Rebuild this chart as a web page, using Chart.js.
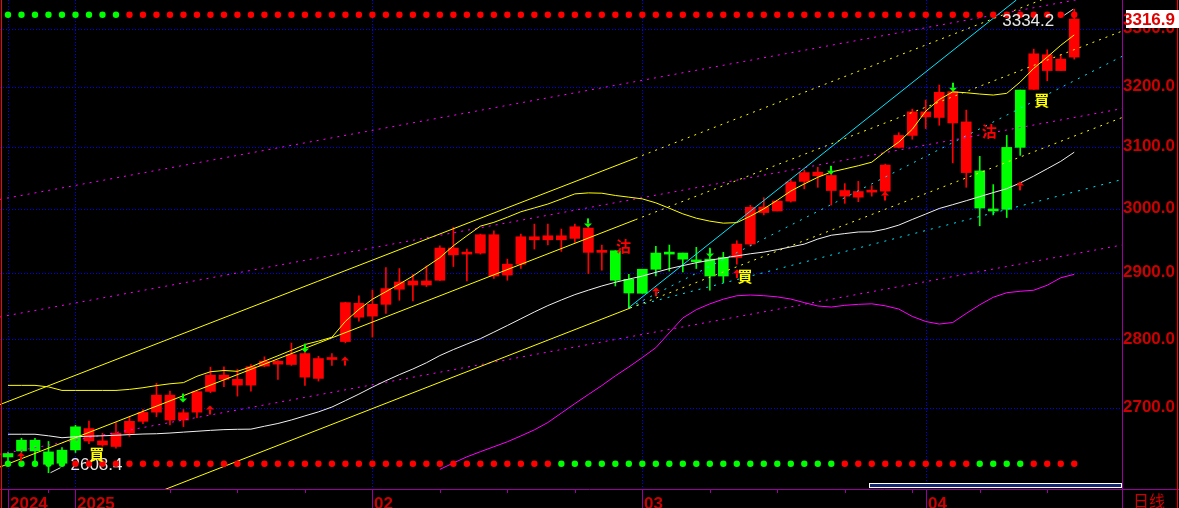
<!DOCTYPE html>
<html>
<head>
<meta charset="utf-8">
<script src="https://cdn.jsdelivr.net/npm/chart.js@4.4.1/dist/chart.umd.min.js"></script>
<style>
html, body { margin: 0; padding: 0; background: #000; }
#wrap { width: 1179px; height: 508px; }
</style>
</head>
<body>
<div id="wrap"><canvas id="graph" width="1179" height="508"></canvas></div>
<script>
// 日足ローソク 2024/12 - 2025/04 (index 0 - 79)
const openP = [2635.1,2653.7,2653.7,2637.3,2639.7,2672.6,2652.7,2647.1,2644.9,2663.5,
  2680.4,2693.4,2682.2,2682.2,2693.4,2723.2,2740.6,2732.3,2732.3,2759.9,
  2762.8,2762.3,2743.9,2742.0,2769.6,2796.1,2832.4,2833.9,2851.7,2874.6,
  2881.1,2881.1,2888.3,2927.5,2928.6,2930.2,2894.8,2896.3,2913.0,2950.9,
  2950.9,2950.9,2953.1,2931.3,2931.3,2933.8,2889.8,2905.2,2930.2,2931.3,
  2930.2,2918.1,2920.8,2923.4,2923.4,2944.2,2993.8,2996.3,3012.0,3043.6,
  3052.6,3028.9,3019.9,3018.3,3026.3,3027.9,3098.9,3118.6,3149.4,3148.4,
  3139.3,3057.8,3060.5,2998.9,3098.9,3194.4,3195.6,3227.6,3227.6,3250.7];
const highP = [2636.9,2656.5,2656.5,2651.9,2643.5,2674.8,2680.8,2663.5,2678.5,2687.0,
  2697.2,2734.8,2723.6,2697.2,2723.0,2758.4,2759.0,2755.1,2762.3,2773.5,
  2768.1,2793.8,2781.0,2774.3,2778.3,2854.8,2864.4,2873.5,2907.8,2906.3,
  2897.4,2910.3,2941.6,2970.3,2936.5,2959.8,2965.0,2920.8,2959.8,2975.5,
  2975.5,2967.7,2975.5,2975.5,2942.7,2933.8,2897.4,2905.2,2940.6,2942.7,
  2930.2,2939.1,2938.0,2931.3,2949.4,3005.2,3017.4,3012.0,3047.4,3062.1,
  3066.4,3062.1,3040.0,3043.6,3036.8,3071.6,3123.1,3162.4,3177.6,3202.9,
  3204.7,3160.7,3084.2,3038.4,3118.6,3194.4,3264.5,3263.3,3254.7,3334.2];
const lowP = [2624.3,2636.9,2624.7,2608.4,2617.7,2636.5,2648.8,2645.3,2642.5,2658.9,
  2677.1,2687.0,2675.2,2672.9,2685.6,2721.3,2730.0,2716.4,2723.6,2759.0,
  2740.6,2760.9,2731.9,2738.1,2760.9,2794.2,2826.3,2802.6,2838.0,2857.8,
  2856.8,2878.7,2888.0,2909.4,2887.2,2928.6,2891.3,2888.3,2906.3,2936.4,
  2942.7,2932.8,2946.9,2898.5,2903.6,2879.6,2846.7,2868.5,2894.8,2902.5,
  2901.0,2906.3,2873.1,2884.8,2913.0,2941.1,2990.0,2996.3,3010.4,3031.6,
  3034.1,3005.7,3008.4,3011.1,3019.9,3022.6,3097.9,3112.3,3129.9,3135.4,
  3073.6,3034.1,2972.8,2990.0,2985.9,3085.8,3195.6,3210.3,3227.6,3247.2];
const closeP = [2630.3,2638.7,2638.7,2620.1,2621.5,2640.1,2670.1,2652.7,2663.5,2680.4,
  2693.0,2717.8,2717.8,2692.6,2722.8,2746.8,2746.8,2740.6,2759.0,2767.1,
  2767.1,2776.8,2778.3,2771.0,2772.0,2854.3,2853.3,2851.7,2875.6,2885.7,
  2887.2,2887.2,2938.0,2938.0,2931.3,2958.8,2958.8,2913.0,2955.6,2955.6,
  2957.2,2957.2,2971.3,2969.2,2933.8,2888.3,2868.9,2868.5,2905.2,2928.6,
  2920.8,2916.6,2894.8,2894.8,2944.2,3002.1,3002.5,3012.0,3042.7,3057.8,
  3058.5,3053.1,3028.9,3027.3,3027.9,3070.0,3118.6,3157.8,3157.8,3190.6,
  3191.6,3141.0,3000.9,2996.3,2998.9,3098.9,3256.4,3254.7,3247.2,3316.9];

// 移動平均線
const maWhite = [2662.1,2662.1,2662.1,2659.9,2657.2,2658.6,2659.3,2659.9,2660.6,2661.6,
  2662.4,2662.8,2663.8,2665.1,2666.3,2667.6,2668.6,2669.1,2669.3,2673.4,
  2677.3,2682.3,2688.1,2693.8,2700.7,2709.9,2719.3,2729.3,2738.7,2747.5,
  2755.7,2764.8,2775.4,2784.2,2792.3,2800.3,2810.0,2819.9,2830.0,2840.2,
  2849.8,2858.3,2866.4,2873.2,2879.6,2885.2,2890.1,2894.7,2900.5,2906.1,
  2910.8,2915.3,2919.1,2922.5,2925.8,2929.1,2931.7,2935.5,2939.8,2944.1,
  2952.0,2958.0,2960.6,2963.1,2963.4,2967.7,2973.9,2982.8,2991.4,3000.2,
  3006.3,3012.6,3019.1,3025.6,3031.8,3041.1,3052.1,3064.0,3076.1,3091.0];
const maYellow = [2731.9,2731.9,2731.9,2729.7,2724.6,2724.6,2724.6,2724.6,2724.6,2726.1,
  2728.5,2731.6,2734.2,2735.9,2745.1,2751.7,2753.5,2752.3,2758.8,2767.2,
  2775.1,2783.2,2791.6,2796.7,2802.4,2826.2,2844.1,2859.4,2870.9,2882.5,
  2894.8,2909.1,2923.1,2941.6,2957.2,2972.3,2978.3,2986.3,2995.0,3001.1,
  3007.3,3015.3,3023.5,3025.1,3024.6,3021.0,3018.3,3015.5,3009.2,3000.6,
  2991.7,2984.8,2980.2,2977.0,2977.8,2988.0,2999.7,3013.4,3028.1,3039.5,
  3050.2,3058.8,3063.8,3068.9,3074.7,3092.1,3107.6,3128.7,3159.0,3178.4,
  3191.4,3189.9,3187.7,3186.0,3188.9,3208.1,3231.4,3250.7,3271.0,3289.1];
const maMagentaStart = 32;
const maMagenta = [2613.0,2621.9,2630.4,2637.6,2644.5,2651.5,2659.7,2668.3,
  2678.7,2692.1,2705.6,2718.7,2731.7,2745.7,2758.7,2772.5,2787.0,2809.1,
  2831.2,2843.7,2852.4,2859.5,2864.7,2865.8,2864.8,2863.0,2859.7,2854.3,
  2849.2,2847.6,2850.2,2851.7,2852.5,2849.5,2844.6,2833.5,2825.9,2822.1,
  2824.4,2838.0,2851.0,2862.4,2869.3,2871.5,2873.1,2880.7,2892.1,2897.4];

// トレンドライン [index, price]
const chUpper = [[-0.59, 2704.3], [46.5, 3081.4], [78.45, 3368.3]];
const chMiddle = [[-0.59, 2616.3], [46.5, 2982.5], [82.54, 3295.7]];
const chLower = [[11.26, 2582.7], [46.1, 2846.1], [82.54, 3148.2]];
const pinkLine1 = [[-0.59, 3014.7], [82.54, 3365.9]];
const pinkLine2 = [[-0.59, 2832.7], [82.54, 3163.2]];
const pinkLine3 = [[-0.59, 2634.1], [82.54, 2942.7]];
const cyanSolid = [[46, 2846.7], [74.71, 3350.5]];
const cyanDot1 = [[46, 2846.7], [82.54, 3251.9]];
const cyanDot2 = [[46, 2846.7], [82.54, 3046.6]];

// シグナル (1=緑, 0=赤)
const topDots = [1,1,1,1,1,1,1,1,1,0, 0,0,0,0,0,0,0,0,0,0, 0,0,0,0,0,0,0,0,0,0, 0,0,0,0,0,0,0,0,0,0,
  0,0,0,0,0,0,0,0,0,0, 0,0,0,0,0,0,0,0,0,0, 0,0,0,0,0,0,0,0,0,0, 0,0,0,0,0,0,0,0,0,0];
const bottomDots = [1,1,1,1,1,0,0,0,0,0, 0,0,0,0,0,0,0,0,0,0, 0,0,0,0,0,0,0,0,0,0, 0,0,0,0,0,0,0,0,0,0,
  0,1,1,1,1,1,1,1,1,1, 1,1,1,1,1,1,1,1,1,1, 1,1,0,0,0,0,0,0,0,0, 0,0,1,1,1,1,0,0,0,0];
const TOP_DOT_LEVEL = 3324.5;
const BOTTOM_DOT_LEVEL = 2620.8;

// 矢印・売買サイン
const upArrowIdx = [1, 15, 25, 48, 54, 65, 75];
const upArrowPrice = [2636.9, 2702.9, 2773.9, 2877.6, 2905.2, 3027.3, 3043.6];
const downArrowIdx = [13, 22, 43, 52, 61, 70];
const downArrowPrice = [2707.2, 2779.7, 2970.3, 2923.4, 3054.2, 3191.6];
const buyIdx = [6.57, 54.6, 76.6];
const buyPrice = [2634.1, 2895.1, 3176.7];
const sellIdx = [45.6, 72.7];
const sellPrice = [2941.1, 3125.3];

// 目盛り
const yTickValues = [2700, 2800, 2900, 3000, 3100, 3200, 3300];
const monthTickIdx = [0, 5, 27, 47, 68];
const monthTickText = ['2024', '2025', '02', '03', '04'];
const weekTickIdx = [3, 12, 17, 22, 32, 37, 42, 52, 57, 62, 67, 72, 77];

const RED = '#ff0000', GREEN = '#00ff00', AXIS_RED = '#cc0000', PURPLE = '#9a00a0';

function toXY(arr) { return arr.map(p => ({x: p[0], y: p[1]})); }
function lineDs(data, color, dash, order) {
  return { type: 'line', data, borderColor: color, borderWidth: 1, borderDash: dash || [],
    pointRadius: 0, fill: false, tension: 0, order: order || 2 };
}

const idx = openP.map((v, i) => i);
const candleColor = idx.map(i => closeP[i] >= openP[i] ? RED : GREEN);

const datasets = [
  { type: 'bar', data: idx.map(i => ({x: i, y: [lowP[i], highP[i]]})), backgroundColor: candleColor,
    grouped: false, maxBarThickness: 1, barPercentage: 1, categoryPercentage: 1, order: 11 },
  { type: 'bar', data: idx.map(i => ({x: i, y: [openP[i], closeP[i]]})), backgroundColor: candleColor,
    grouped: false, maxBarThickness: 10, barPercentage: 1, categoryPercentage: 1, minBarLength: 2, order: 10 },
  lineDs(idx.map(i => ({x: i, y: maWhite[i]})), '#f0f0f0', null, 3),
  lineDs(idx.map(i => ({x: i, y: maYellow[i]})), '#ffff00', null, 3),
  lineDs(maMagenta.map((v, k) => ({x: k + maMagentaStart, y: v})), '#ff00ff', null, 3),
  lineDs(toXY(chUpper.slice(0, 2)), '#ffff00', null, 4),
  lineDs(toXY(chUpper.slice(1)), '#ffff00', [2, 5], 4),
  lineDs(toXY(chMiddle.slice(0, 2)), '#ffff00', null, 4),
  lineDs(toXY(chMiddle.slice(1)), '#ffff00', [2, 5], 4),
  lineDs(toXY(chLower.slice(0, 2)), '#ffff00', null, 4),
  lineDs(toXY(chLower.slice(1)), '#ffff00', [2, 5], 4),
  lineDs(toXY(pinkLine1), '#ff00ff', [2, 5], 5),
  lineDs(toXY(pinkLine2), '#ff00ff', [2, 5], 5),
  lineDs(toXY(pinkLine3), '#ff00ff', [2, 5], 5),
  lineDs(toXY(cyanSolid), '#00e8ff', null, 4),
  lineDs(toXY(cyanDot1), '#00e8ff', [2, 6], 5),
  lineDs(toXY(cyanDot2), '#00e8ff', [2, 6], 5),
  { type: 'line', data: idx.map(i => ({x: i, y: TOP_DOT_LEVEL})), showLine: false, pointRadius: 3.2,
    pointBorderWidth: 0, pointBackgroundColor: topDots.map(d => d ? GREEN : RED), order: 1 },
  { type: 'line', data: idx.map(i => ({x: i, y: BOTTOM_DOT_LEVEL})), showLine: false, pointRadius: 3.2,
    pointBorderWidth: 0, pointBackgroundColor: bottomDots.map(d => d ? GREEN : RED), order: 1 }
];

function drawArrow(ctx, x, y, dir, color) {
  // dir 1: 上向き (先端 y), -1: 下向き
  ctx.fillStyle = color;
  ctx.beginPath();
  ctx.moveTo(x, y);
  ctx.lineTo(x - 4, y + 4 * dir);
  ctx.lineTo(x + 4, y + 4 * dir);
  ctx.closePath();
  ctx.fill();
  ctx.fillRect(x - 1, dir > 0 ? y + 4 : y - 9, 2, 5);
}

const overlay = {
  id: 'overlay',
  beforeDraw(chart) {
    const ctx = chart.ctx;
    ctx.save();
    ctx.fillStyle = '#000';
    ctx.fillRect(0, 0, chart.width, chart.height);
    ctx.restore();
  },
  beforeDatasetsDraw(chart) {
    const {ctx, chartArea: a, scales: {x, y}} = chart;
    ctx.save();
    ctx.strokeStyle = '#0000ff';
    ctx.lineWidth = 1;
    ctx.setLineDash([1, 2]);
    yTickValues.forEach(v => {
      const py = Math.round(y.getPixelForValue(v)) + 0.5;
      ctx.beginPath(); ctx.moveTo(a.left, py); ctx.lineTo(a.right, py); ctx.stroke();
    });
    monthTickIdx.forEach(i => {
      const px = Math.round(x.getPixelForValue(i)) + 0.5;
      ctx.beginPath(); ctx.moveTo(px, a.top); ctx.lineTo(px, a.bottom); ctx.stroke();
    });
    ctx.setLineDash([]);
    // 最安値ラベル
    let mi = 0;
    lowP.forEach((v, i) => { if (v < lowP[mi]) mi = i; });
    const lx = x.getPixelForValue(mi), ly = y.getPixelForValue(lowP[mi]);
    ctx.strokeStyle = '#e0e0e0';
    ctx.beginPath(); ctx.moveTo(lx + 2, ly); ctx.lineTo(lx + 12, ly - 5); ctx.stroke();
    ctx.fillStyle = '#e8e8e8';
    ctx.font = '17px "Liberation Sans"';
    ctx.textBaseline = 'alphabetic';
    ctx.fillText(lowP[mi].toFixed(1), lx + 22, ly - 3);
    ctx.restore();
  },
  afterDatasetsDraw(chart) {
    const {ctx, scales: {x, y}} = chart;
    ctx.save();
    upArrowIdx.forEach((i, k) => drawArrow(ctx, Math.round(x.getPixelForValue(i)), y.getPixelForValue(upArrowPrice[k]), 1, RED));
    downArrowIdx.forEach((i, k) => drawArrow(ctx, Math.round(x.getPixelForValue(i)), y.getPixelForValue(downArrowPrice[k]), -1, GREEN));
    ctx.textAlign = 'center';
    ctx.textBaseline = 'middle';
    ctx.font = 'bold 15px "Noto Sans CJK TC"';
    ctx.fillStyle = '#ffff00';
    buyIdx.forEach((i, k) => ctx.fillText('買', x.getPixelForValue(i), y.getPixelForValue(buyPrice[k])));
    ctx.fillStyle = RED;
    sellIdx.forEach((i, k) => ctx.fillText('沽', x.getPixelForValue(i), y.getPixelForValue(sellPrice[k])));
    // 最高値ラベル
    let hi = 0;
    highP.forEach((v, i) => { if (v > highP[hi]) hi = i; });
    const hx = x.getPixelForValue(hi), hy = y.getPixelForValue(highP[hi]);
    ctx.strokeStyle = '#e0e0e0';
    ctx.lineWidth = 1;
    ctx.beginPath(); ctx.moveTo(hx - 1, hy); ctx.lineTo(hx - 10, hy + 6); ctx.stroke();
    ctx.textAlign = 'right';
    ctx.textBaseline = 'alphabetic';
    ctx.font = '17px "Liberation Sans"';
    ctx.fillStyle = '#e8e8e8';
    ctx.fillText(highP[hi].toFixed(1), hx - 20, hy + 17);
    ctx.restore();
  },
  afterDraw(chart) {
    const {ctx, chartArea: a, scales: {x, y}} = chart;
    const W = chart.width, H = chart.height;
    ctx.save();
    ctx.strokeStyle = PURPLE;
    ctx.lineWidth = 1;
    ctx.beginPath();
    ctx.moveTo(a.right + 0.5, 0); ctx.lineTo(a.right + 0.5, H);
    ctx.moveTo(0, a.bottom + 0.5); ctx.lineTo(W, a.bottom + 0.5);
    monthTickIdx.forEach(i => {
      const px = Math.round(x.getPixelForValue(i)) + 0.5;
      ctx.moveTo(px, a.bottom); ctx.lineTo(px, H);
    });
    weekTickIdx.forEach(i => {
      const px = Math.round(x.getPixelForValue(i)) + 0.5;
      ctx.moveTo(px, a.bottom); ctx.lineTo(px, a.bottom + 4);
    });
    ctx.stroke();
    // 月ラベル
    ctx.fillStyle = AXIS_RED;
    ctx.font = 'bold 17px "Liberation Sans"';
    ctx.textBaseline = 'alphabetic';
    ctx.textAlign = 'left';
    monthTickIdx.forEach((i, k) => ctx.fillText(monthTickText[k], Math.round(x.getPixelForValue(i)) + 2, H + 1));
    ctx.font = '16px "Noto Sans CJK SC"';
    ctx.fillText('日线', a.right + 11, H - 1);
    // スクロールバー
    ctx.fillStyle = '#13286e';
    ctx.fillRect(869, 483, 252, 5);
    ctx.strokeStyle = '#ffffff';
    ctx.strokeRect(869.5, 483.5, 252, 4);
    // 外枠
    ctx.strokeStyle = '#ff0000';
    ctx.beginPath();
    ctx.moveTo(1.5, 0); ctx.lineTo(1.5, H);
    ctx.moveTo(W - 1.5, 0); ctx.lineTo(W - 1.5, H);
    ctx.stroke();
    // 最新値
    const last = closeP[closeP.length - 1];
    const ly = y.getPixelForValue(last);
    ctx.fillStyle = '#ffffff';
    ctx.fillRect(a.right + 4, Math.round(ly) - 9, W - a.right - 4, 18);
    ctx.fillStyle = '#e00000';
    ctx.font = 'bold 17px "Liberation Sans"';
    ctx.textBaseline = 'middle';
    ctx.fillText(last.toFixed(1), a.right + 1, ly + 1);
    ctx.restore();
  }
};

new Chart(document.getElementById('graph'), {
  type: 'bar',
  data: { datasets },
  plugins: [overlay],
  options: {
    responsive: false,
    animation: false,
    devicePixelRatio: 1,
    layout: { autoPadding: false, padding: { left: 0, top: 0, right: 0, bottom: 19 } },
    plugins: { legend: { display: false }, tooltip: { enabled: false } },
    scales: {
      x: { type: 'linear', min: -0.5927, max: 82.54, offset: false, display: false },
      y: {
        type: 'logarithmic', position: 'right', min: 2586.0, max: 3350.5, bounds: 'data',
        afterBuildTicks: s => { s.ticks = yTickValues.map(v => ({value: v})); },
        afterFit: s => { s.width = 57; s.paddingTop = 0; s.paddingBottom = 0; },
        grid: { display: false, drawTicks: false },
        border: { display: false },
        ticks: { color: AXIS_RED, padding: 1, autoSkip: false,
          font: { family: 'Liberation Sans', size: 17, weight: 'bold' },
          callback: v => Number(v).toFixed(1) }
      }
    }
  }
});
</script>
</body>
</html>
